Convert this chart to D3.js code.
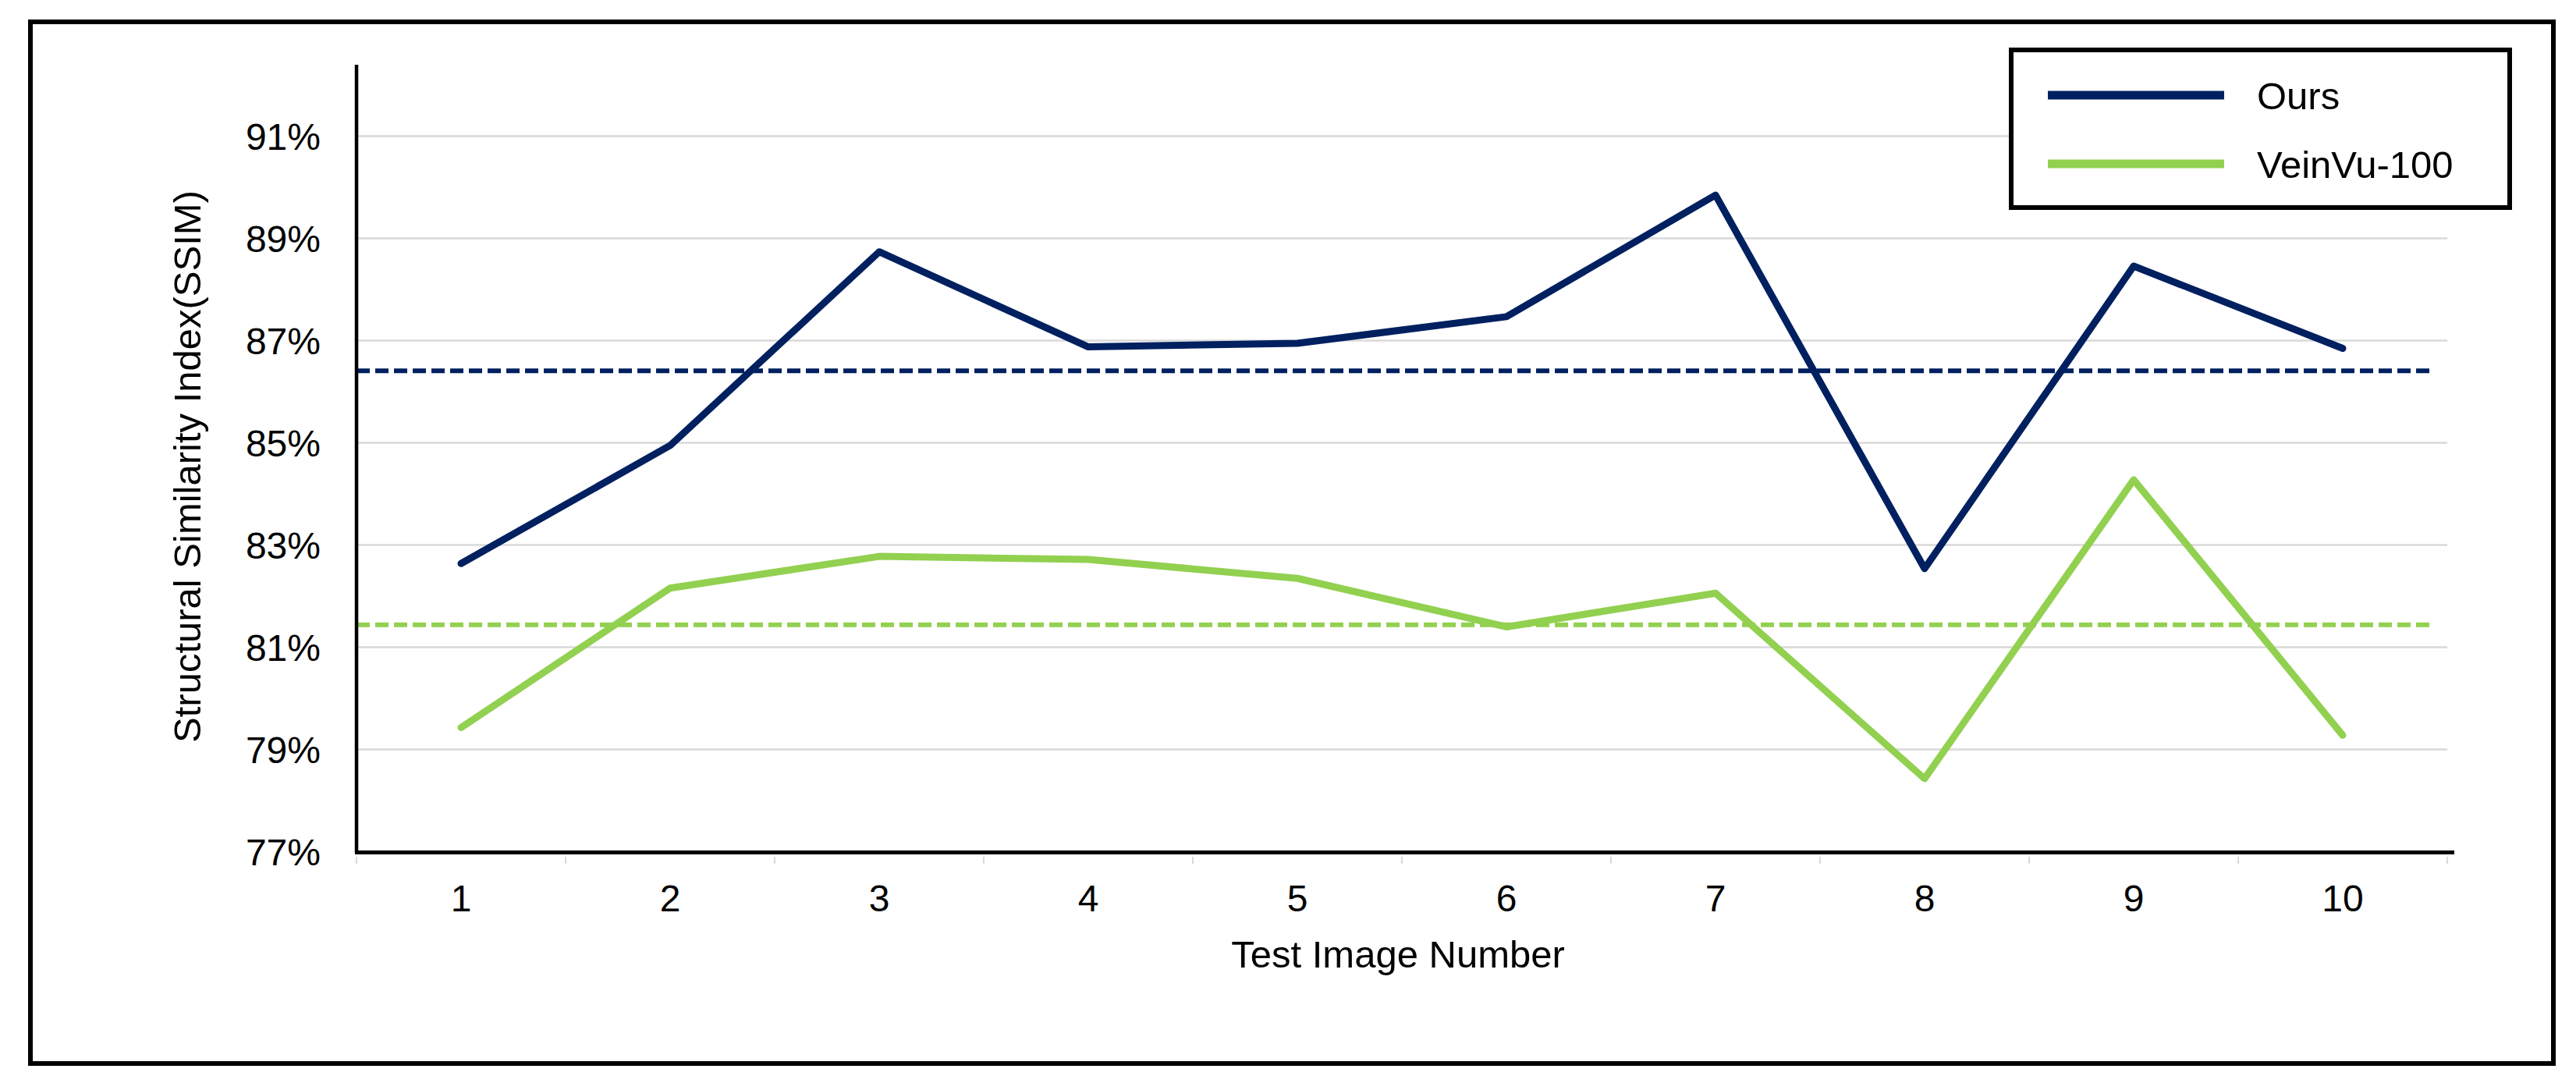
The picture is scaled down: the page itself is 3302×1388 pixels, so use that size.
<!DOCTYPE html>
<html>
<head>
<meta charset="utf-8">
<script src="https://cdn.jsdelivr.net/npm/d3@7"></script>
<style>
  html, body { margin: 0; padding: 0; background: #ffffff; }
  svg { display: block; }
  text { font-family: "Liberation Sans", Arial, Helvetica, sans-serif; fill: #000; }
</style>
</head>
<body>
<svg id="chart" width="3302" height="1388"></svg>
<script>
// ---------------- data ----------------
const categories = ["1", "2", "3", "4", "5", "6", "7", "8", "9", "10"];
const seriesNames = ["Ours", "VeinVu-100"];
const oursValues = [0.8263, 0.8494, 0.8873, 0.8687, 0.8694, 0.8746, 0.8984, 0.8253, 0.8845, 0.8684];
const veinVuValues = [0.7942, 0.8215, 0.8277, 0.8271, 0.8234, 0.8139, 0.8205, 0.7842, 0.8427, 0.7927];
const averageValues = [0.8640, 0.8143];            // dashed average lines: Ours, VeinVu-100
const yTickValues = [0.77, 0.79, 0.81, 0.83, 0.85, 0.87, 0.89, 0.91];
const yDomain = [0.77, 0.9239];
const xTitle = "Test Image Number";
const yTitle = "Structural Similarity Index(SSIM)";

// ---------------- layout / style ----------------
const W = 3302, H = 1388;
const plot = { left: 457, right: 3137, top: 83, bottom: 1091 };
const colors = ["#002060", "#92D050"];
const fontSize = 48;

const svg = d3.select("#chart");
svg.append("rect").attr("x", 0).attr("y", 0).attr("width", W).attr("height", H).attr("fill", "#fff");

// outer frame
svg.append("rect")
  .attr("x", 39).attr("y", 28).attr("width", 3273 - 39).attr("height", 1363 - 28)
  .attr("fill", "none").attr("stroke", "#000").attr("stroke-width", 6);

const x = d3.scaleBand().domain(categories).range([plot.left, plot.right]).paddingInner(0).paddingOuter(0);
const y = d3.scaleLinear().domain(yDomain).range([plot.bottom, plot.top]);

// gridlines
const grid = svg.append("g").attr("transform", `translate(${plot.left},0)`)
  .call(d3.axisLeft(y).tickValues(yTickValues.filter(v => v > yDomain[0]))
    .tickSize(-(plot.right - plot.left)).tickFormat(""));
grid.select(".domain").remove();
grid.selectAll(".tick line").attr("stroke", "#d9d9d9").attr("stroke-width", 2.5);

// y axis labels
const yAxis = svg.append("g").attr("transform", `translate(${plot.left},0)`)
  .call(d3.axisLeft(y).tickValues(yTickValues).tickFormat(d3.format(".0%")).tickSize(0).tickPadding(46));
yAxis.select(".domain").remove();
yAxis.selectAll("text").attr("font-size", fontSize).attr("dy", "0.36em")
  .attr("font-family", '"Liberation Sans", Arial, sans-serif').attr("fill", "#000");

// x axis labels
const xAxis = svg.append("g").attr("transform", `translate(0,${plot.bottom})`)
  .call(d3.axisBottom(x).tickSize(0).tickPadding(0));
xAxis.select(".domain").remove();
xAxis.selectAll("text").attr("font-size", fontSize).attr("dy", null).attr("y", 77)
  .attr("font-family", '"Liberation Sans", Arial, sans-serif').attr("fill", "#000");

// x ticks at category boundaries
const boundaries = categories.map(c => x(c)).concat([x(categories[categories.length - 1]) + x.bandwidth()]);
svg.append("g").selectAll("line").data(boundaries).join("line")
  .attr("x1", d => d).attr("x2", d => d)
  .attr("y1", plot.bottom + 7).attr("y2", plot.bottom + 16)
  .attr("stroke", "#d9d9d9").attr("stroke-width", 2);

// average dashed lines
svg.append("g").selectAll("line").data(averageValues).join("line")
  .attr("x1", plot.left).attr("x2", 3120)
  .attr("y1", d => y(d)).attr("y2", d => y(d))
  .attr("stroke", (d, i) => colors[i]).attr("stroke-width", 6)
  .attr("stroke-dasharray", "17,7");

// data lines
const line = d3.line().x((d, i) => x(categories[i]) + x.bandwidth() / 2).y(d => y(d));
svg.append("g").selectAll("path").data([oursValues, veinVuValues]).join("path")
  .attr("d", d => line(d))
  .attr("fill", "none").attr("stroke", (d, i) => colors[i]).attr("stroke-width", 9)
  .attr("stroke-linejoin", "round").attr("stroke-linecap", "round");

// axis lines
svg.append("line").attr("x1", plot.left).attr("x2", plot.left)
  .attr("y1", plot.top).attr("y2", plot.bottom + 2)
  .attr("stroke", "#000").attr("stroke-width", 4.5);
svg.append("line").attr("x1", plot.left - 2).attr("x2", 3146)
  .attr("y1", plot.bottom + 1.5).attr("y2", plot.bottom + 1.5)
  .attr("stroke", "#000").attr("stroke-width", 5);

// axis titles
svg.append("text").attr("x", 1792).attr("y", 1240).attr("text-anchor", "middle")
  .attr("font-size", 49).text(xTitle);
svg.append("text").attr("transform", "translate(257,598) rotate(-90)").attr("text-anchor", "middle")
  .attr("font-size", 49).text(yTitle);

// legend
const legend = svg.append("g");
legend.append("rect").attr("x", 2578).attr("y", 64).attr("width", 639).attr("height", 202)
  .attr("fill", "#fff").attr("stroke", "#000").attr("stroke-width", 6);
const legendRows = [122, 210];
seriesNames.forEach((name, i) => {
  legend.append("line").attr("x1", 2625).attr("x2", 2851)
    .attr("y1", legendRows[i]).attr("y2", legendRows[i])
    .attr("stroke", colors[i]).attr("stroke-width", 11);
  legend.append("text").attr("x", 2893).attr("y", legendRows[i] + 17.5)
    .attr("font-size", 49).text(name);
});
</script>
</body>
</html>
